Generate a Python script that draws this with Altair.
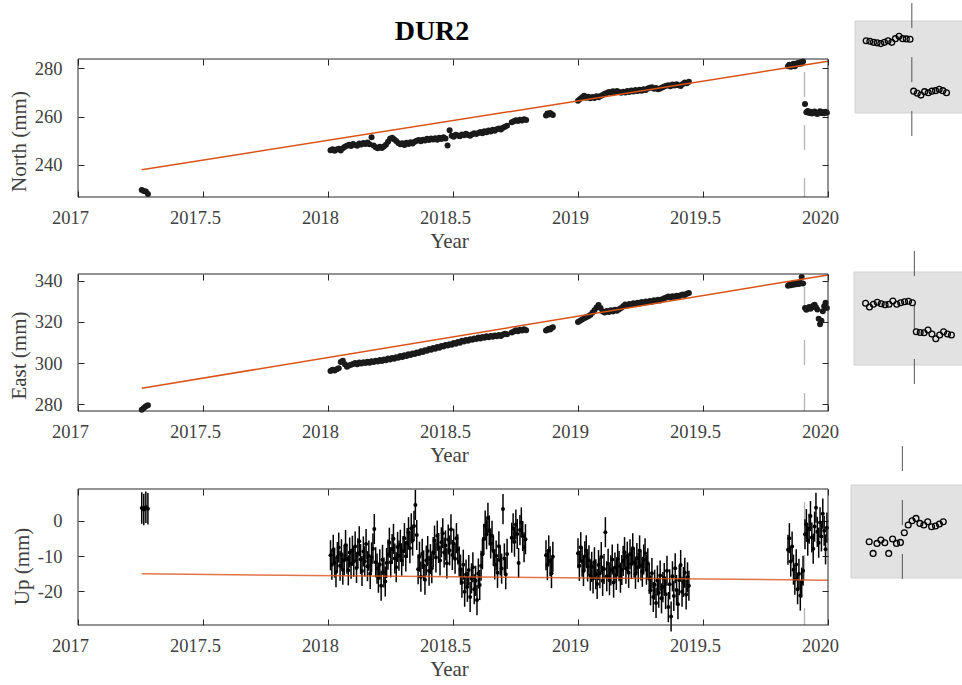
import altair as alt
import pandas as pd

# ---------------- axes content ----------------
x_domain = [2017.0, 2020.0]
x_ticks = [2017, 2017.5, 2018, 2018.5, 2019, 2019.5, 2020]

north_domain = [226.6, 283.86]
east_domain = [276.75, 343.25]
up_domain = [-29.71, 9.14]
north_ticks = [240, 260, 280]
east_ticks = [280, 300, 320, 340]
up_ticks = [-20, -10, 0]

# sampling of the daily solutions: segment start (decimal year) and spacing (days)
seg_start = [2017.255, 2018.01, 2018.735, 2018.872, 2019.0, 2019.84, 2019.908]
seg_days_ne = [3, 3, 3, 2, 3, 2, 2]
seg_days_up = [3, 2, 2, 2, 2, 2, 2]

# ---------------- North (mm) ----------------
north_s0 = [229.5, 229.1, 228.9, 227.8]
north_s1 = [246.0, 246.4, 245.8, 246.3, 246.6, 245.9, 246.8,
            247.5, 247.9, 248.3, 247.8, 248.6, 248.2, 247.9, 248.8, 248.4, 249.0, 248.6, 249.2, 248.5,
            251.4,
            248.0, 247.2, 246.8, 247.4, 246.9, 247.6, 248.3, 249.5,
            250.8, 251.2, 250.6, 249.8, 249.0,
            248.5, 248.9, 248.2, 249.1, 248.6, 249.3, 248.8, 249.5, 249.9, 250.3, 249.7,
            250.4, 250.0, 250.8, 250.2, 250.9, 250.5, 251.0, 250.4, 251.2, 250.7, 251.4, 250.9, 248.0,
            254.3,
            252.0, 251.6, 252.4, 252.1, 251.8, 252.5, 252.2, 252.8, 252.3, 252.0, 252.6, 253.0, 252.7,
            253.2, 253.6, 253.1, 253.9, 253.5, 254.2, 253.8, 254.5, 254.1, 254.7, 255.0, 254.6, 255.3, 255.8, 256.2]
north_s2 = [257.6, 258.0, 258.4, 258.1, 258.7, 258.3, 258.9, 258.5]
north_s3 = [260.4, 261.2, 260.8, 261.5, 261.0, 260.6]
north_s4 = [266.5, 267.3, 268.0, 268.6, 267.8, 268.2,
            267.6, 268.1, 267.7, 268.4, 268.0, 268.5, 268.9,
            269.4, 269.8, 270.2, 269.9, 270.5, 270.1, 270.6, 270.2,
            269.9, 270.3, 270.0, 270.6, 270.2, 270.8, 270.4, 271.0, 270.6, 271.1, 270.7, 271.3, 271.0, 271.6, 271.9, 272.1,
            271.5, 271.8, 271.3, 271.6, 272.0, 272.4, 272.8,
            273.0, 272.6, 273.3, 272.9, 273.4, 273.0, 272.7, 273.5, 274.1, 273.8, 274.4]
north_s5 = [280.8, 281.5, 280.6, 281.2, 281.9, 280.9, 281.6, 282.2, 281.8, 282.5, 282.0, 282.8]
north_s6 = [265.2, 261.8, 262.3, 261.5, 262.0, 261.2, 261.7, 262.1, 261.4, 261.0, 261.6, 262.2,
            261.5, 261.9, 261.3, 262.0, 261.6]

# ---------------- East (mm) ----------------
east_s0 = [277.3, 278.2, 279.0, 279.6]
east_s1 = [296.2, 296.8, 296.4, 297.0, 297.5,
           300.5, 301.2,
           299.4, 298.2, 298.8, 299.2,
           299.6, 300.1, 299.5, 300.3, 299.8, 300.4, 300.0, 300.7, 300.2, 300.9,
           300.5, 301.2, 300.8, 301.5, 301.0, 301.8, 301.4, 302.2, 301.8, 302.5, 302.1, 302.9,
           302.6, 303.4, 303.0, 303.8, 303.4, 304.3, 303.9, 304.7, 304.4, 305.2, 304.9, 305.7, 305.4, 306.2, 306.0, 306.8,
           306.5, 307.3, 307.0, 307.8, 307.5, 308.3, 308.0, 308.8, 308.5, 309.2, 308.9, 309.7, 309.4, 310.2, 309.9, 310.8,
           310.5, 311.2, 310.9, 311.6, 311.3, 312.0, 311.7, 312.4, 312.0, 312.7, 312.3, 313.0, 312.6, 313.2, 312.8,
           313.4, 313.0, 313.6, 313.2, 313.9, 314.3, 314.0]
east_s2 = [314.8, 315.3, 315.9, 315.5, 316.2, 315.8, 316.4, 316.0]
east_s3 = [315.8, 316.2, 316.7, 316.3, 317.0, 317.4]
east_s4 = [320.0, 320.6, 321.2, 321.8, 322.3, 322.8, 323.4, 324.5, 325.6, 327.0,
           328.2, 326.8, 325.1, 324.6, 325.3, 324.8, 325.6, 325.1, 325.9, 325.4,
           326.2, 326.8, 327.6, 328.4, 328.0, 328.7, 328.3, 329.0, 328.6, 329.3,
           328.9, 329.6, 329.2, 329.9, 329.5, 330.2, 329.8, 330.5, 330.1, 330.8,
           330.4, 331.0, 331.5, 331.9, 332.3, 331.9, 332.5, 332.1, 332.7, 332.3,
           332.9, 333.3, 333.0, 333.7, 334.0]
east_s5 = [337.5, 338.2, 337.8, 338.5, 338.0, 338.7, 338.3, 338.9, 338.4, 339.0, 341.8, 338.6]
east_s6 = [326.8, 325.9, 326.5, 327.2, 326.4, 327.0, 327.8, 328.3, 327.1, 326.0, 321.5, 318.9,
           320.6, 325.2, 327.6, 329.3, 326.8]

# ---------------- Up (mm) ----------------
up_s0 = [3.7, 3.3, 3.9, 3.5]
up_s1 = [-9.8, -12.5, -8.2, -11.9, -14.6, -10.3, -7.6, -12.8, -9.5, -13.9, -11.2, -6.9, -10.8, -14.1, -9.0, -12.2, -8.5,
         -11.6, -7.3, -13.4, -9.2, -5.8, -10.9, -14.3, -8.7, -11.5, -6.6, -12.9, -9.9, -15.1, -10.4, -7.9, -2.3, -11.8, -13.6,
         -16.2, -12.4, -18.5, -11.1, -14.7, -17.3, -12.0,
         -9.6, -6.2, -11.8, -8.0, -5.1, -10.7, -13.2, -7.4, -9.9, -6.8, -11.3, -8.6, -4.9, -10.1,
         -6.3, -3.2, -7.8, -2.1, -5.6, -1.4, 4.6, -4.0,
         -13.8, -10.2, -15.9, -9.4, -12.7, -16.8, -11.3, -8.6, -14.2, -10.9, -13.5,
         -8.9, -5.6, -10.4, -4.2, -7.7, -11.3, -6.1, -3.5, -9.0, -7.0, -12.1, -5.3, -8.4, -2.4, -9.7, -6.5, -10.8, -4.9, -8.1, -11.6,
         -13.9, -17.6, -12.5, -20.2, -15.3, -18.8, -14.0, -21.7, -16.4, -13.2, -19.5, -17.1, -22.6, -15.0, -18.3, -12.8, -9.5,
         -5.1, -1.3, -3.8, 0.9, -2.7, -6.4, -4.2,
         -8.6, -12.4, -9.9, -14.8, -7.2, -11.3, -13.6, 3.4, -10.7, -15.2, -9.4]
up_s2 = [-4.8, -2.1, -5.9, -1.0, -3.7, -12.0, -2.6, -0.4, -4.3, -7.5, -5.2]
up_s3 = [-9.8, -12.6, -8.4, -11.5, -14.9, -10.2]
up_s4 = [-9.2, -12.8, -7.5, -11.6, -14.3, -10.1, -8.4, -13.0, -11.2, -15.6,
         -13.1, -16.4, -11.8, -15.2, -18.0, -12.6, -14.9, -10.3, -17.1, -13.7, -3.2, -15.8, -12.2, -16.9, -14.1,
         -11.0, -17.6, -13.3, -15.4, -10.8, -12.9, -16.2, -14.0,
         -11.4, -8.9, -13.6, -10.2, -14.8, -9.5, -12.3, -7.8, -11.9, -15.1, -10.6, -13.2, -8.4, -12.7, -14.5,
         -11.0, -9.2, -13.9, -12.1,
         -16.5, -19.8, -14.9, -21.7, -18.2, -23.4, -17.0, -20.5, -15.6, -22.1, -18.9,
         -16.3, -20.9, -14.2, -24.6, -18.1, -27.3, -15.8, -21.4, -13.5, -19.7, -23.8, -16.9, -12.6, -20.2,
         -17.4, -14.8, -21.0, -16.1, -18.5]
up_s5 = [-8.2, -4.9, -11.6, -7.3, -13.9, -16.8, -12.4, -19.5, -15.1, -21.3, -17.6, -14.2]
up_s6 = [-3.8, -0.9, -5.6, -2.2, 1.4, -4.7, -7.9, -1.6, 3.8, -3.1, -6.2, -0.4, -4.4, 2.1, -2.8, -8.1, -1.9]
up_sigma = [4.5, 4.3, 4.3, 4.3, 4.3, 4.3, 4.3]

# ---------------- fitted linear model ----------------
fit_years = [2017.255, 2020.0]
north_fit = [237.9, 282.9]
east_fit = [287.8, 342.8]
up_fit = [-15.1, -16.9]

event_year = 2019.906

# ---------------- insets: daily solutions around the event ----------------
inset_event_day = 0.5
n_days_pre = [-12, -11, -10, -9, -8, -7, -6, -5, -4, -3, -2, -1, 0]
n_days_post = [1, 2, 3, 4, 5, 6, 7, 8, 9, 10]
n_in_pre = [281.9, 281.7, 281.3, 281.1, 280.8, 281.3, 281.9, 281.3, 282.7, 283.6, 282.7, 282.6, 282.5]
n_in_post = [262.5, 261.7, 261.0, 262.3, 261.9, 262.5, 262.7, 263.2, 262.7, 261.9]
n_in_box_days = [-15.07, 15.0]
n_in_box_vals = [254.1, 289.5]
n_in_line = [296.4, 244.5]

e_days_pre = [-12, -11, -10, -9, -8, -7, -6, -5, -4, -3, -2, -1, 0]
e_days_post = [1, 2, 3, 4, 5, 6, 7, 8, 9, 10]
e_in_pre = [338.4, 336.9, 338.0, 338.8, 338.2, 337.8, 338.0, 339.3, 338.0, 338.6, 339.0, 339.2, 338.6]
e_in_post = [327.0, 326.7, 326.6, 327.7, 326.1, 324.2, 325.7, 327.0, 326.1, 325.7]
e_in_box_days = [-14.97, 14.0]
e_in_box_vals = [313.7, 350.9]
e_in_line = [359.3, 303.7]

u_days_pre = [-8, -7, -6, -5, -4, -3, -2, -1, 0]
u_days_post = [1, 2, 3, 4, 5, 6, 7, 8, 9, 10, 11]
u_in_pre = [-11.9, -17.7, -12.7, -11.0, -12.4, -17.7, -10.5, -12.7, -12.2]
u_in_post = [-7.4, -3.5, -1.4, -0.2, -2.7, -3.5, -1.9, -4.4, -4.0, -3.0, -1.9]
u_in_box_days = [-12.67, 17.0]
u_in_box_vals = [-30.0, 16.5]
u_in_line = [36.0, -32.0]

# ---------------- layout / style ----------------
W, H = 750, 566
TICK = 6
FONT = "Liberation Serif"
ORANGE = "#D95319"
INK = "#262626"
north_px = [138, 0]
east_px = [352, 215]
up_px = [566, 430]


def series(segs, steps, sigma=None):
    rows = []
    for k, (start, step, vals) in enumerate(zip(seg_start, steps, segs)):
        for i, v in enumerate(vals):
            r = {"t": start + i * step / 365.25, "v": v}
            if sigma is not None:
                r["lo"] = v - sigma[k]
                r["hi"] = v + sigma[k]
            rows.append(r)
    return pd.DataFrame(rows)


north_df = series([north_s0, north_s1, north_s2, north_s3, north_s4, north_s5, north_s6], seg_days_ne)
east_df = series([east_s0, east_s1, east_s2, east_s3, east_s4, east_s5, east_s6], seg_days_ne)
up_df = series([up_s0, up_s1, up_s2, up_s3, up_s4, up_s5, up_s6], seg_days_up, up_sigma)


def xs():
    return alt.Scale(domain=x_domain, range=[0, W], nice=False, zero=False)


def panel(df, fit_vals, ydom, ypx, yticks, ytitle, title_y, errorbars=False, fit_opacity=1.0):
    def ys():
        return alt.Scale(domain=ydom, range=ypx, nice=False, zero=False)

    bottom_off = ypx[0] - H - TICK
    top_off = -(ypx[1] + TICK)
    ax_bottom = alt.Axis(orient="bottom", offset=bottom_off, values=x_ticks, tickSize=TICK,
                         domain=False, grid=False, labelExpr="'' + datum.value",
                         labelPadding=11, labelOffset=-8, labelFlush=False, labelOverlap=False,
                         title="Year", titlePadding=4, titleX=371)
    ax_left = alt.Axis(orient="left", offset=-TICK, values=yticks, tickSize=TICK,
                       domain=False, grid=False, labelExpr="'' + datum.value",
                       labelPadding=16, labelOverlap=False,
                       title=ytitle, titlePadding=5, titleY=title_y)
    ax_top = alt.Axis(orient="top", offset=top_off, values=x_ticks, tickSize=TICK,
                      domain=False, grid=False, labels=False, title=None)
    ax_right = alt.Axis(orient="right", offset=-TICK, values=yticks, tickSize=TICK,
                        domain=False, grid=False, labels=False, title=None)

    ev = pd.DataFrame({"t": [event_year], "a": [ydom[1]], "b": [ydom[0]]})
    rule = alt.Chart(ev).mark_rule(color="#b4b4b4", strokeWidth=1.3, strokeDash=[25, 28],
                                   strokeDashOffset=40).encode(
        x=alt.X("t:Q", scale=xs(), axis=None),
        y=alt.Y("a:Q", scale=ys(), axis=None), y2="b:Q")
    layers = [rule]
    if errorbars:
        layers.append(alt.Chart(df).mark_rule(color="#000000", strokeWidth=1.5).encode(
            x=alt.X("t:Q", scale=xs(), axis=None),
            y=alt.Y("lo:Q", scale=ys(), axis=None), y2="hi:Q"))
        pts = alt.Chart(df).mark_circle(size=16, color="#000000", opacity=1)
    else:
        pts = alt.Chart(df).mark_circle(size=36, color="#1a1a1a", opacity=1)
    layers.append(pts.encode(x=alt.X("t:Q", scale=xs(), axis=ax_bottom),
                             y=alt.Y("v:Q", scale=ys(), axis=ax_left)))
    fit = pd.DataFrame({"t": fit_years, "v": fit_vals})
    layers.append(alt.Chart(fit).mark_line(color=ORANGE, strokeWidth=1.5, opacity=fit_opacity).encode(
        x=alt.X("t:Q", scale=xs(), axis=ax_top),
        y=alt.Y("v:Q", scale=ys(), axis=ax_right)))
    frame = pd.DataFrame({"t": [x_domain[0]], "t2": [x_domain[1]], "a": [ydom[0]], "b": [ydom[1]]})
    layers.append(alt.Chart(frame).mark_rect(fillOpacity=0, stroke=INK, strokeWidth=1).encode(
        x=alt.X("t:Q", scale=xs(), axis=None), x2="t2:Q",
        y=alt.Y("a:Q", scale=ys(), axis=None), y2="b:Q"))
    return layers


def inset(days_pre, vals_pre, days_post, vals_post, box_days, box_vals, line_vals, xpx, ypx):
    def sx():
        return alt.Scale(domain=box_days, range=xpx, nice=False, zero=False)

    def sy():
        return alt.Scale(domain=box_vals, range=ypx, nice=False, zero=False)

    box_df = pd.DataFrame({"d": [box_days[0]], "d2": [box_days[1]], "v": [box_vals[0]], "v2": [box_vals[1]]})
    box = alt.Chart(box_df).mark_rect(fill="#e2e2e2", stroke="#d2d2d2", strokeWidth=1).encode(
        x=alt.X("d:Q", scale=sx(), axis=None), x2="d2:Q",
        y=alt.Y("v:Q", scale=sy(), axis=None), y2="v2:Q")
    line_df = pd.DataFrame({"d": [inset_event_day], "a": [line_vals[0]], "b": [line_vals[1]]})
    line = alt.Chart(line_df).mark_rule(color="#555555", strokeWidth=1, strokeDash=[25, 29]).encode(
        x=alt.X("d:Q", scale=sx(), axis=None),
        y=alt.Y("a:Q", scale=sy(), axis=None), y2="b:Q")
    pts_df = pd.DataFrame({"d": days_pre + days_post, "v": vals_pre + vals_post})
    pts = alt.Chart(pts_df).mark_point(shape="circle", filled=False, size=34, color="#000000",
                                       strokeWidth=1.3, opacity=1).encode(
        x=alt.X("d:Q", scale=sx(), axis=None),
        y=alt.Y("v:Q", scale=sy(), axis=None))
    return [box, line, pts]


layers = []
layers += panel(north_df, north_fit, north_domain, north_px, north_ticks, "North (mm)", 82)
layers += panel(east_df, east_fit, east_domain, east_px, east_ticks, "East (mm)", 296)
layers += panel(up_df, up_fit, up_domain, up_px, up_ticks, "Up (mm)", 507, errorbars=True, fit_opacity=0.8)
layers += inset(n_days_pre, n_in_pre, n_days_post, n_in_post, n_in_box_days, n_in_box_vals, n_in_line,
                [777, 886.75], [54, -38])
layers += inset(e_days_pre, e_in_pre, e_days_post, e_in_post, e_in_box_days, e_in_box_vals, e_in_line,
                [776, 889], [306, 213])
layers += inset(u_days_pre, u_in_pre, u_days_post, u_in_post, u_in_box_days, u_in_box_vals, u_in_line,
                [773, 888.7], [519, 426])

chart = alt.layer(*layers).resolve_scale(
    x="independent", y="independent"
).resolve_axis(
    x="independent", y="independent"
).properties(
    width=W, height=H,
    padding={"left": 78, "top": 59, "right": 134, "bottom": 60},
    autosize=alt.AutoSizeParams(type="none"),
    title=alt.TitleParams(text="DUR2", font=FONT, fontSize=28, fontWeight="bold", color="#000000",
                          anchor="middle", frame="group", dx=-21, offset=-65.5, baseline="alphabetic"),
).configure_view(
    strokeWidth=0
).configure_axis(
    labelFont=FONT, labelFontSize=18.5, labelColor="#404040",
    titleFont=FONT, titleFontSize=21, titleFontWeight="normal", titleColor="#404040",
    tickColor=INK, tickWidth=1,
)

chart.save("out.html", embed_options={"renderer": "svg", "actions": False})
